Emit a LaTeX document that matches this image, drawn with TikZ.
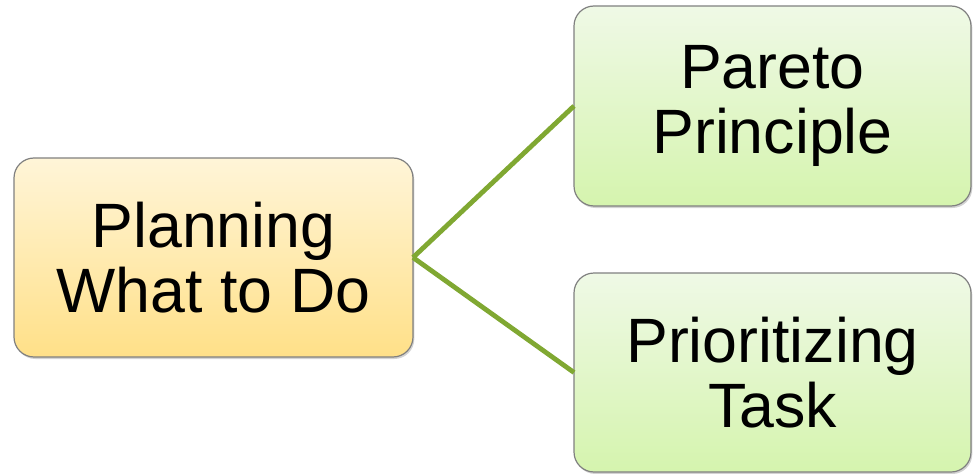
\documentclass[tikz,border=0pt]{standalone}
\usepackage{fontspec}
\setmainfont{Liberation Sans}
\usetikzlibrary{shadows}
\definecolor{boxline}{HTML}{808080}
\definecolor{linkgreen}{HTML}{80A832}
\definecolor{planTop}{HTML}{FFF5D8}
\definecolor{planBot}{HTML}{FFE088}
\definecolor{leafTop}{HTML}{EFF9E6}
\definecolor{leafBot}{HTML}{D5F4AE}
\begin{document}
\begin{tikzpicture}[x=0.75pt, y=-0.75pt,
    box/.style={rectangle, rounded corners=15pt, draw=boxline, line width=0.9pt,
        inner sep=0pt, outer sep=0pt, align=center,
        font=\fontsize{47}{48.75}\selectfont,
        drop shadow={opacity=0.35, shadow xshift=1pt, shadow yshift=-1.5pt}},
    link/.style={linkgreen, line width=3.6pt}]
            \useasboundingbox (0,0) rectangle (977,474);

            \node (plan) at (213.5,257.5) [box, minimum width=299.25pt, minimum height=149.25pt,
                top color=planTop, bottom color=planBot] {Planning\\What to Do};
            \node (pareto) at (772.5,106) [box, minimum width=297.75pt, minimum height=150pt,
                top color=leafTop, bottom color=leafBot] {Pareto\\Principle};
            \node (prio) at (772.5,372.5) [box, minimum width=297.75pt, minimum height=149.25pt,
                top color=leafTop, bottom color=leafBot] {Prioritizing\\Task};

            \draw[link] (plan.east) -- (pareto.west);
            \draw[link] (plan.east) -- (prio.west);
        \end{tikzpicture}
\end{document}
